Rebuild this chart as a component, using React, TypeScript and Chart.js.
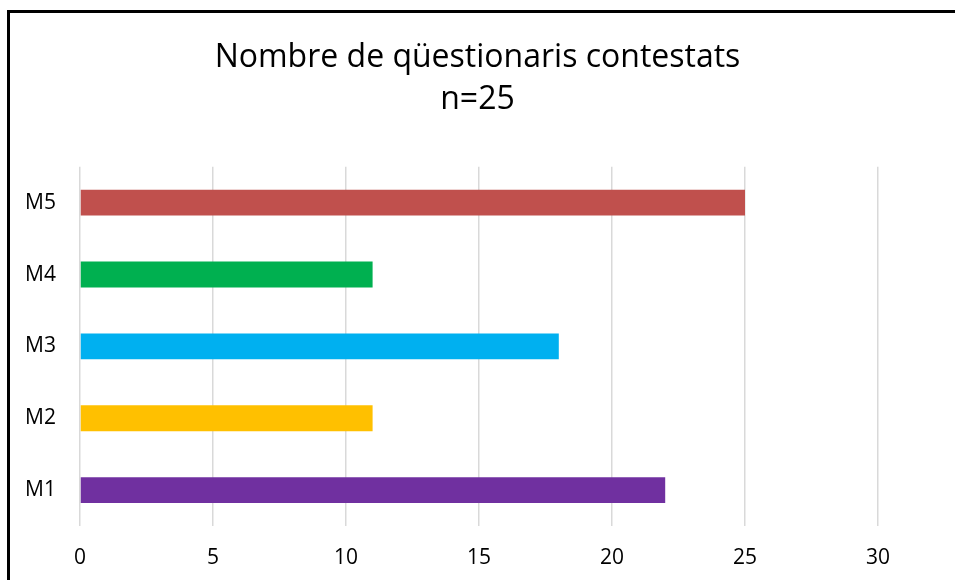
import React, { useEffect, useRef } from "react";
import { Chart, registerables } from "chart.js";

Chart.register(...registerables);

const categories = ["M1", "M2", "M3", "M4", "M5"];
const values = [22, 11, 18, 11, 25];
const barColors = ["#7030A0", "#FFC000", "#00B0F0", "#00B050", "#C0504D"];
const titleLines = ["Nombre de qüestionaris contestats", "n=25"];
const xMin = 0;
const xMax = 30;
const xStep = 5;

export default function App() {
  const ref = useRef<HTMLCanvasElement | null>(null);

  useEffect(() => {
    if (!ref.current) return;
    const chart = new Chart(ref.current, {
      type: "bar",
      data: {
        labels: categories,
        datasets: [
          {
            data: values,
            backgroundColor: barColors,
            borderWidth: 0,
            barPercentage: 0.36,
            categoryPercentage: 1,
          },
        ],
      },
      options: {
        indexAxis: "y",
        animation: false,
        responsive: false,
        devicePixelRatio: 1,
        layout: { padding: { top: 0, left: 0, right: 0, bottom: 0 } },
        plugins: {
          legend: { display: false },
          tooltip: { enabled: false },
          title: {
            display: true,
            text: titleLines,
            color: "#000",
            font: { family: "'Open Sans', sans-serif", size: 32, weight: "normal", lineHeight: 1.34 },
            padding: { top: 36, bottom: 45 },
          },
        },
        scales: {
          x: {
            min: xMin,
            max: xMax,
            ticks: {
              stepSize: xStep,
              color: "#000",
              padding: 19,
              font: { family: "'Open Sans', sans-serif", size: 21 },
            },
            grid: { color: "#d9d9d9", lineWidth: 1.5, drawTicks: false },
            border: { display: false },
            afterFit: (scale: any) => {
              scale.height = 54;
            },
          },
          y: {
            reverse: true,
            ticks: {
              color: "#000",
              padding: 24,
              font: { family: "'Open Sans', sans-serif", size: 21 },
            },
            grid: { display: false, drawTicks: false },
            border: { display: false },
            afterFit: (scale: any) => {
              scale.width = 80;
            },
          },
          spacer: {
            type: "linear",
            position: "right",
            display: true,
            ticks: { display: false },
            grid: { display: false, drawTicks: false },
            border: { display: false },
            afterFit: (scale: any) => {
              scale.width = 77;
            },
          },
        },
      },
    });
    return () => chart.destroy();
  }, []);

  return (
    <div style={{ position: "fixed", left: 0, top: 0, width: 955, height: 580, background: "#fff", overflow: "hidden" }}>
      <canvas ref={ref} width={955} height={580} style={{ position: "absolute", left: 0, top: 0, width: 955, height: 580 }} />
      <div
        style={{
          position: "absolute",
          left: 7,
          top: 10,
          width: 1000,
          height: 700,
          borderLeft: "3px solid #000",
          borderTop: "3px solid #000",
          pointerEvents: "none",
        }}
      />
    </div>
  );
}
